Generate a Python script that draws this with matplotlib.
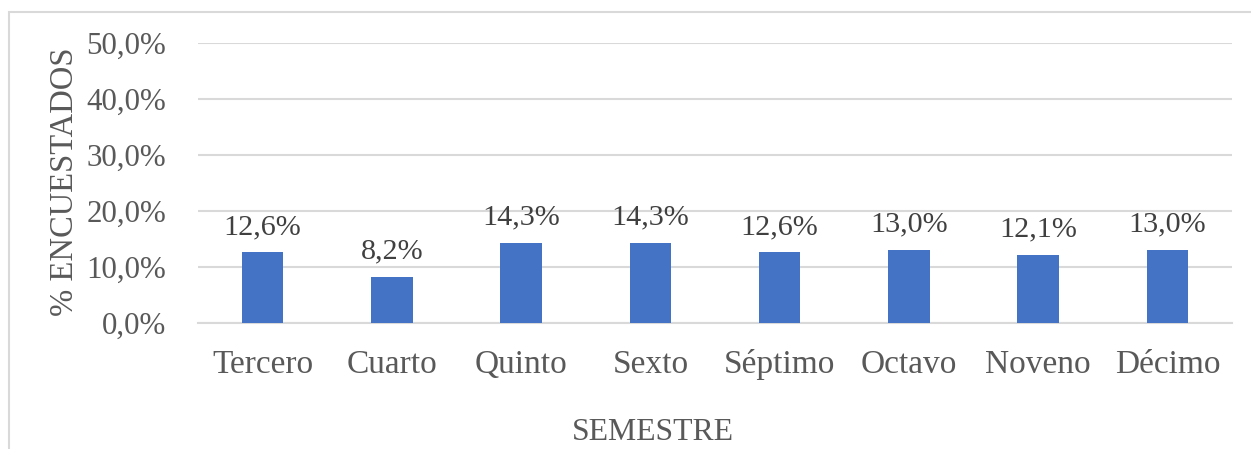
import matplotlib.pyplot as plt
from matplotlib.patches import Rectangle

# Datos del gráfico
semestres = ['Tercero', 'Cuarto', 'Quinto', 'Sexto', 'Séptimo', 'Octavo', 'Noveno', 'Décimo']
porcentajes = [12.6, 8.2, 14.3, 14.3, 12.6, 13.0, 12.1, 13.0]
ticks_y = [0, 10, 20, 30, 40, 50]

plt.rcParams['font.family'] = ['Liberation Serif', 'DejaVu Serif']

fig = plt.figure(figsize=(12.51, 4.49), dpi=100)
ax = fig.add_axes([198 / 1251, 1 - 323 / 449, (1232 - 198) / 1251, (323 - 43) / 449])

# Marco del gráfico (solo se ven borde izquierdo y superior)
fig.patches.append(Rectangle((9 / 1251, -0.1), 1.2, (449 - 12) / 449 + 0.1,
                             transform=fig.transFigure, fill=False,
                             edgecolor='#d9d9d9', linewidth=1.5))

x = range(len(semestres))
ax.bar(x, porcentajes, width=0.32, color='#4472C4', zorder=3)

for xi, v in zip(x, porcentajes):
    etiqueta = f'{v:.1f}%'.replace('.', ',')
    ax.annotate(etiqueta, (xi, v), xytext=(0, 9), textcoords='offset points',
                ha='center', va='bottom', fontsize=21.7, color='#404040')

ax.set_xlim(-0.5, len(semestres) - 0.5)
ax.set_ylim(0, 50)
ax.set_yticks(ticks_y)
ax.set_yticklabels([f'{t:.1f}%'.replace('.', ',') for t in ticks_y])
ax.set_xticks(list(x))
ax.set_xticklabels(semestres)
ax.tick_params(axis='both', length=0, colors='#595959')
ax.tick_params(axis='y', labelsize=22.3, pad=23)
ax.tick_params(axis='x', labelsize=24, pad=19)

ax.grid(axis='y', color='#d9d9d9', linewidth=1.5, zorder=0)
for lado in ['top', 'right', 'left']:
    ax.spines[lado].set_visible(False)
ax.spines['bottom'].set_color('#d9d9d9')
ax.spines['bottom'].set_linewidth(1.5)

fig.text(65 / 1251, 1 - 182 / 449, '% ENCUESTADOS', rotation=90, ha='center', va='center',
         fontsize=23.5, color='#595959')
fig.text(653 / 1251, 1 - 433 / 449, 'SEMESTRE', ha='center', va='center',
         fontsize=22.9, color='#595959')

fig.savefig('out.png', dpi=100)
